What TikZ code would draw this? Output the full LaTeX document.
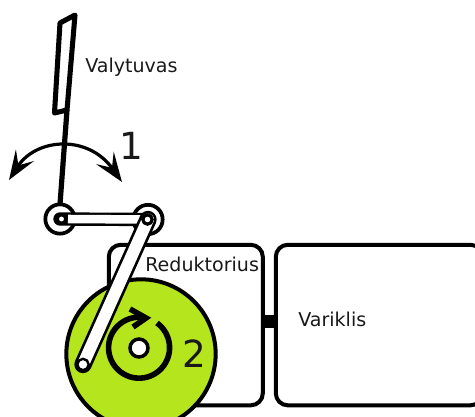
\documentclass[tikz,border=0pt]{standalone}
\usepackage{fontspec}
\setmainfont{DejaVu Sans}
\usetikzlibrary{arrows.meta}
\tikzset{
  ink/.style={draw=black,line width=3pt},
  boxn/.style={ink,rectangle,rounded corners=9pt,fill=white,anchor=north west,inner sep=0pt,outer sep=0pt},
  lbl/.style={font=\fontsize{14.3pt}{16pt}\selectfont,text=black!90,inner sep=0pt},
  big/.style={font=\fontsize{28pt}{30pt}\selectfont,text=black!90,inner sep=0pt},
  pivot/.style={circle,draw=black,line width=2.8pt,fill=white,minimum size=22pt,inner sep=0pt,outer sep=0pt},
  hole/.style={circle,draw=black,line width=2.6pt,fill=white,inner sep=0pt,outer sep=0pt},
  barout/.style={line cap=round,draw=black},
  barin/.style={line cap=round,draw=white},
}
\begin{document}
\begin{tikzpicture}[x=0.75pt,y=-0.75pt]
\useasboundingbox (0,0) rectangle (475,417);
\clip (0,0) rectangle (475,417);
% boxes
\node[boxn,minimum width=115.5pt,minimum height=120.4pt] (red) at (108.8,244.8) {};
\node[boxn,minimum width=155pt,minimum height=120.4pt] (var) at (275.8,244.8) {};
\draw[line width=9.8pt,draw=black] ([yshift=2.6pt]red.east) -- ([yshift=2.6pt]var.west);
% gear
\node[circle,draw=black,line width=3pt,fill={rgb,255:red,181;green,230;blue,29},minimum size=112pt,inner sep=0pt,outer sep=0pt] (gear) at (141,354) {};
\node[hole,minimum size=13.5pt] (axle) at (139,348) {};
% rotation arrow 2
\coordinate (rstart) at (157,323);
\coordinate (rtip) at (146,318);
\draw[line width=4.2pt] (rstart) arc[start angle=-54,end angle=272,radius=30.5];
\draw[line width=4.2pt,line join=miter] (130,309) -- (rtip) -- (133,327);
% wiper
\coordinate (blA) at (75,15);
\coordinate (blB) at (60,23);
\coordinate (blC) at (54.5,113);
\coordinate (blD) at (67,110);
\node[pivot] (pl) at (60,219) {};
\node[pivot] (pr) at (148,219.5) {};
\draw[line width=3.8pt,line join=round] (blA) -- (blB) -- (blC) -- (blD) -- cycle;
\draw[line width=3.9pt] (blD) -- (pl.north);
% swing arrow 1
\coordinate (sl) at (9,180);
\coordinate (sr) at (122,182);
\draw[line width=2.4pt,{Stealth[length=22pt,width=16pt,inset=9pt]}-{Stealth[length=22pt,width=16pt,inset=9pt]}]
  (sl) .. controls (36,138) and (88,134) .. (sr);
% link and rod
\coordinate (e) at (83,364.5);
\draw[barout,line width=10pt] (pl.center) -- (pr.center);
\draw[barin,line width=6.4pt,line cap=butt] ([xshift=6pt]pl.center) -- (pr.center);
\node[hole,minimum size=6.5pt,line width=2.4pt] (hl) at (61.5,219) {};
\draw[barout,line width=13pt] (pr.center) -- (e);
\draw[barin,line width=9pt] (pr.center) -- (e);
\node[hole,minimum size=8.5pt,line width=1.8pt] (he) at (e) {};
\node[hole,minimum size=7pt,line width=2.4pt] (hr) at (147.5,219.5) {};
% labels
\node[lbl,anchor=base west] (t1) at (85,73) {Valytuvas};
\node[lbl,anchor=base west] (t2) at (145,272) {Reduktorius};
\node[lbl,anchor=base west] (t3) at (298,326) {Variklis};
\node[big,anchor=base west] (n1) at (119,160) {1};
\node[big,anchor=base west] (n2) at (182,367) {2};
\end{tikzpicture}
\end{document}
